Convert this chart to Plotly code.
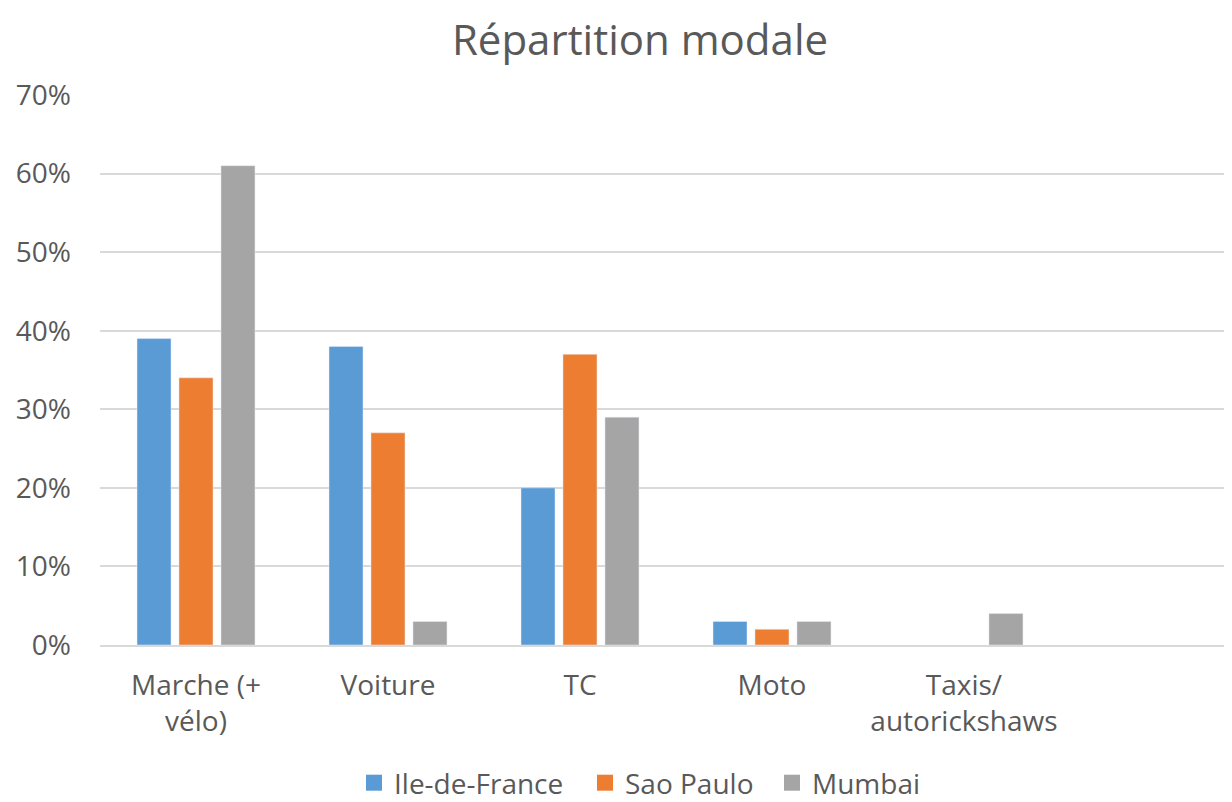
import plotly.graph_objects as go

categories = ["Marche (+<br>vélo)", "Voiture", "TC", "Moto", "Taxis/<br>autorickshaws"]
series_names = ["Ile-de-France", "Sao Paulo", "Mumbai"]
ile_de_france = [0.39, 0.38, 0.20, 0.03, None]
sao_paulo = [0.34, 0.27, 0.37, 0.02, None]
mumbai = [0.61, 0.03, 0.29, 0.03, 0.04]
y_ticks = [0, 0.1, 0.2, 0.3, 0.4, 0.5, 0.6, 0.7]
colors = ["#5B9BD5", "#ED7D31", "#A5A5A5"]

FONT = "Open Sans"
TXT = "#595959"

# page body has an 8px margin, so the figure is drawn 8px smaller
W, H = 1224, 794
L, T, B = 92, 87, 157
PW, PH = W - L, H - T - B

fig = go.Figure()
for name, vals, col in zip(series_names, [ile_de_france, sao_paulo, mumbai], colors):
    fig.add_trace(go.Bar(name=name, x=categories, y=vals, marker_color=col,
                         showlegend=False))
legend_ids = ["legend", "legend2", "legend3"]
for name, col, lid in zip(series_names, colors, legend_ids):
    fig.add_trace(go.Scatter(name=name, x=[None], y=[None], mode="markers",
                             marker=dict(symbol="square", size=18, color=col),
                             showlegend=True, legend=lid))

legend_left = [346, 577, 764]
leg_y = -(775 - (H - B)) / PH
legend_common = dict(orientation="h", xanchor="left", y=leg_y, yanchor="middle",
                     font=dict(family=FONT, size=28, color=TXT),
                     bgcolor="rgba(0,0,0,0)", itemwidth=30)

fig.update_layout(
    width=W, height=H,
    margin=dict(l=L, r=0, t=T, b=B, autoexpand=False),
    paper_bgcolor="white", plot_bgcolor="white",
    barmode="group", bargap=0.344, bargroupgap=0.19,
    font=dict(family=FONT, color=TXT, size=28),
    title=dict(text="Répartition modale", x=632 / W, xanchor="center",
               y=1 - 32 / H, yanchor="middle",
               font=dict(family=FONT, size=42, color=TXT)),
    showlegend=True,
    legend=dict(x=(legend_left[0] - L) / PW, **legend_common),
    legend2=dict(x=(legend_left[1] - L) / PW, **legend_common),
    legend3=dict(x=(legend_left[2] - L) / PW, **legend_common),
    xaxis=dict(type="category", range=[-0.5, 5.396], showgrid=False,
               showline=True, linecolor="#D9D9D9", linewidth=2,
               ticks="", tickfont=dict(family=FONT, size=28, color=TXT),
               ticklabelstandoff=14, fixedrange=True),
    yaxis=dict(range=[0, 0.7], tickvals=y_ticks, tickformat=".0%",
               showgrid=True, gridcolor="#D9D9D9", gridwidth=2,
               zeroline=False, showline=False, ticks="",
               tickfont=dict(family=FONT, size=28, color=TXT),
               ticklabelstandoff=28, fixedrange=True),
)

fig.write_html("out.html")
